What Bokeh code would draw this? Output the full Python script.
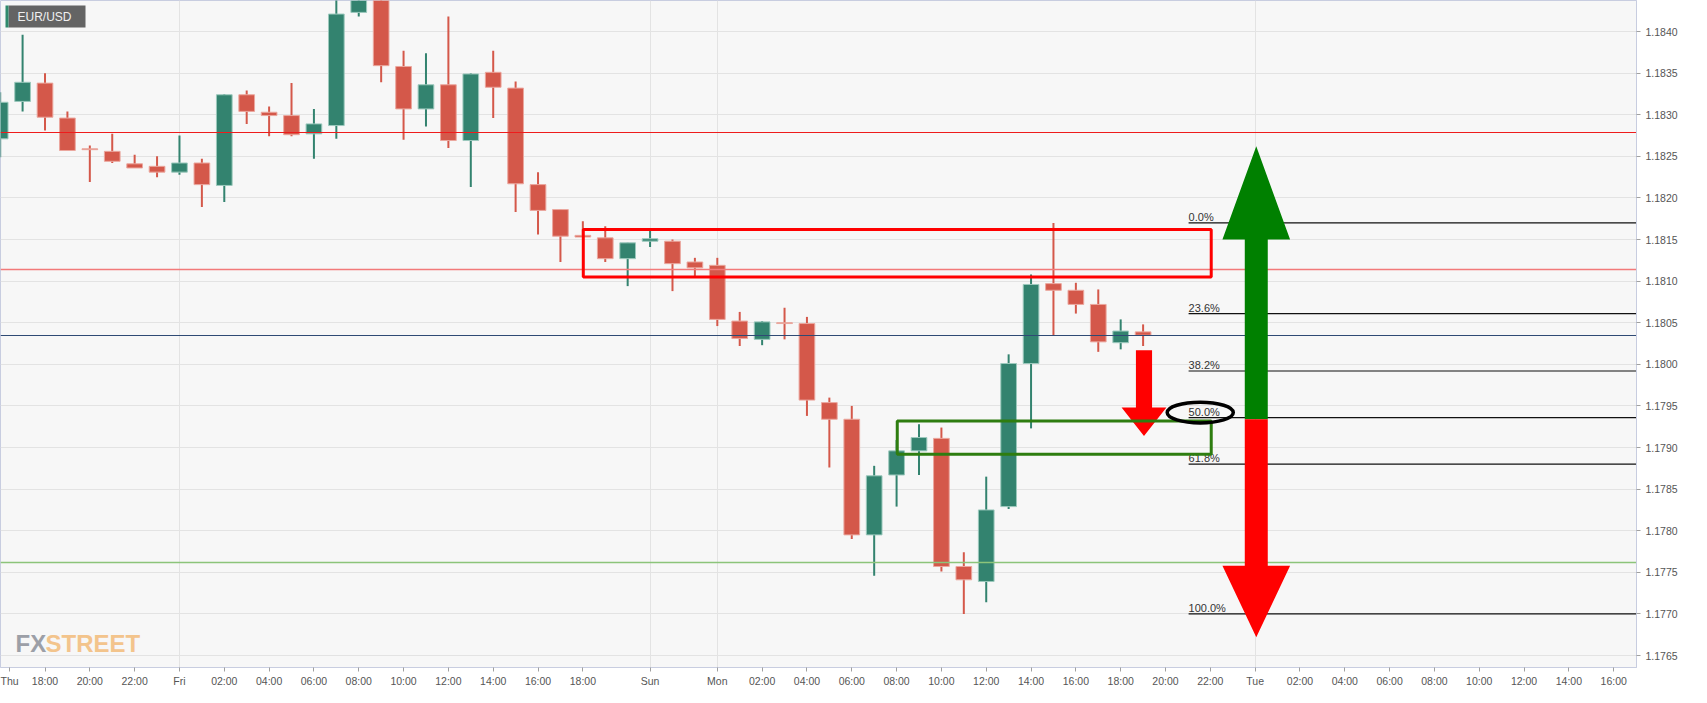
from bokeh.plotting import figure
from bokeh.models import (FixedTicker, Label, BoxAnnotation, NumeralTickFormatter,
                          ColumnDataSource)
from bokeh.core.properties import value
from bokeh.embed import file_html
from bokeh.resources import INLINE

# ---------------- data (hourly EUR/USD candles, index 0 = Thu 18:00) ----------------
hours = list(range(-2, 50))
opens = [1.18271, 1.18316, 1.18338, 1.18296, 1.18259, 1.18256, 1.18241, 1.18238, 1.18231, 1.18242,
         1.18215, 1.18324, 1.18303, 1.18299, 1.18277, 1.18287, 1.18423, 1.18448, 1.18358, 1.18307,
         1.18336, 1.18269, 1.18351, 1.18332, 1.18216, 1.18186, 1.18155, 1.18152, 1.18127, 1.18148,
         1.18148, 1.18123, 1.18119, 1.18052, 1.18030, 1.18050, 1.18049, 1.17954, 1.17934, 1.17795,
         1.17867, 1.17896, 1.17911, 1.17757, 1.17739, 1.17829, 1.18001, 1.18097, 1.18089, 1.18072,
         1.18026, 1.18039]
highs = [1.18327, 1.18396, 1.18350, 1.18304, 1.18263, 1.18277, 1.18252, 1.18250, 1.18275, 1.18247,
         1.18325, 1.18329, 1.18310, 1.18338, 1.18307, 1.18450, 1.18465, 1.18460, 1.18377, 1.18374,
         1.18418, 1.18350, 1.18377, 1.18340, 1.18231, 1.18186, 1.18172, 1.18166, 1.18146, 1.18164,
         1.18150, 1.18128, 1.18128, 1.18063, 1.18052, 1.18068, 1.18057, 1.17960, 1.17950, 1.17878,
         1.17909, 1.17928, 1.17924, 1.17774, 1.17865, 1.18012, 1.18108, 1.18170, 1.18098, 1.18090,
         1.18054, 1.18048]
lows = [1.18249, 1.18304, 1.18281, 1.18257, 1.18219, 1.18242, 1.18236, 1.18225, 1.18228, 1.18189,
        1.18195, 1.18289, 1.18274, 1.18274, 1.18247, 1.18271, 1.18418, 1.18339, 1.18270, 1.18286,
        1.18260, 1.18213, 1.18296, 1.18183, 1.18156, 1.18123, 1.18153, 1.18123, 1.18094, 1.18141,
        1.18088, 1.18105, 1.18046, 1.18022, 1.18023, 1.18030, 1.17938, 1.17876, 1.17790, 1.17746,
        1.17829, 1.17867, 1.17751, 1.17700, 1.17714, 1.17826, 1.17923, 1.18035, 1.18061, 1.18015,
        1.18018, 1.18022]
closes = [1.18315, 1.18339, 1.18297, 1.18257, 1.18258, 1.18244, 1.18236, 1.18231, 1.18242, 1.18216,
          1.18324, 1.18304, 1.18299, 1.18276, 1.18289, 1.18421, 1.18450, 1.18359, 1.18307, 1.18336,
          1.18269, 1.18349, 1.18333, 1.18217, 1.18185, 1.18154, 1.18153, 1.18127, 1.18146, 1.18151,
          1.18121, 1.18116, 1.18054, 1.18031, 1.18051, 1.18049, 1.17957, 1.17934, 1.17795, 1.17866,
          1.17896, 1.17912, 1.17757, 1.17741, 1.17825, 1.18001, 1.18096, 1.18089, 1.18072, 1.18027,
          1.18040, 1.18035]

x_tick_pos = [-1.58, 0, 2, 4, 6, 8, 10, 12, 14, 16, 18, 20, 22, 24, 27, 30, 32, 34, 36, 38, 40, 42,
              44, 46, 48, 50, 52, 54, 56, 58, 60, 62, 64, 66, 68, 70]
x_tick_labels = ["Thu", "18:00", "20:00", "22:00", "Fri", "02:00", "04:00", "06:00", "08:00", "10:00",
                 "12:00", "14:00", "16:00", "18:00", "Sun", "Mon", "02:00", "04:00", "06:00", "08:00",
                 "10:00", "12:00", "14:00", "16:00", "18:00", "20:00", "22:00", "Tue", "02:00", "04:00",
                 "06:00", "08:00", "10:00", "12:00", "14:00", "16:00"]
day_lines = [6, 27, 30, 54]
y_ticks = [1.1765, 1.1770, 1.1775, 1.1780, 1.1785, 1.1790, 1.1795, 1.1800, 1.1805, 1.1810,
           1.1815, 1.1820, 1.1825, 1.1830, 1.1835, 1.1840]

# horizontal support / resistance lines
h_levels = [1.18279, 1.18114, 1.17762, 1.18035]
h_colors = ["#ee1c1c", "#f27a7a", "#8cc47a", "#2f4a74"]
h_widths = [1.2, 1.6, 1.6, 1.2]
last_price = 1.18035

# fibonacci retracement
fib_levels = [1.18170, 1.18061, 1.17992, 1.17936, 1.17880, 1.17700]
fib_labels = ["0.0%", "23.6%", "38.2%", "50.0%", "61.8%", "100.0%"]
fib_start, fib_end = 51.03, 80

# drawn zones
red_zone = dict(left=24.02, right=52.04, bottom=1.18105, top=1.18162)
green_zone = dict(left=38.03, right=52.04, bottom=1.17892, top=1.17932)

# small red down arrow
sa_x, sa_top, sa_neck, sa_tip, sa_shaft, sa_head = 49.04, 1.18017, 1.17948, 1.17914, 0.36, 1.0
# big two-way arrow
ba_x, ba_up_tip, ba_up_neck, ba_mid, ba_dn_neck, ba_dn_tip = 54.05, 1.18262, 1.18150, 1.17934, 1.17758, 1.17672
ba_shaft, ba_head = 0.513, 1.51
# ellipse round the 50% label
ell_x, ell_y, ell_w, ell_h = 51.55, 1.17942, 2.95, 0.000249

# ---------------- figure ----------------
FRAME_H = 667
p = figure(frame_width=1636, frame_height=FRAME_H, x_range=(-1.986, 71.017),
           y_range=(1.176356, 1.184373),
           y_axis_location="right", output_backend="svg", toolbar_location=None,
           min_border_left=0, min_border_top=0, min_border_right=55, min_border_bottom=20,
           background_fill_color="#f7f7f7", border_fill_color="#ffffff",
           outline_line_color="#c8cde0")

FONT = "Liberation Sans"
axis_col = "#c8cde0"

p.xaxis.ticker = FixedTicker(ticks=x_tick_pos, minor_ticks=[])
p.xaxis.major_label_overrides = dict(zip(x_tick_pos, x_tick_labels))
p.yaxis.ticker = FixedTicker(ticks=y_ticks, minor_ticks=[])
p.yaxis.formatter = NumeralTickFormatter(format="0.0000")
for ax in (p.xaxis, p.yaxis):
    ax.axis_line_color = axis_col
    ax.major_tick_line_color = "#a0a0a0"
    ax.major_tick_in = 0
    ax.major_tick_out = 4
    ax.minor_tick_line_color = None
    ax.major_label_text_font = FONT
    ax.major_label_text_font_size = "10.5px"
    ax.major_label_text_color = "#555555"
p.xaxis.major_label_standoff = 3
p.yaxis.major_label_standoff = 5

p.xgrid.ticker = FixedTicker(ticks=day_lines, minor_ticks=[])
p.ygrid.ticker = FixedTicker(ticks=y_ticks, minor_ticks=[])
p.xgrid.grid_line_color = "#e3e3e3"
p.ygrid.grid_line_color = "#e3e3e3"

# ---------------- candles ----------------
up_col, dn_col = "#33836f", "#d4584a"
up_edge, dn_edge = "#9cc9bd", "#eba79e"
colors = [up_col if c >= o else dn_col for o, c in zip(opens, closes)]
edges = [up_edge if c >= o else dn_edge for o, c in zip(opens, closes)]
src = ColumnDataSource(dict(
    x=hours, o=opens, h=highs, l=lows, c=closes,
    top=[max(o, c) for o, c in zip(opens, closes)],
    bottom=[min(o, c) for o, c in zip(opens, closes)],
    color=colors, edge=edges))
p.segment(x0="x", y0="l", x1="x", y1="h", line_color="color", line_width=2, source=src)
p.vbar(x="x", width=0.7, top="top", bottom="bottom", fill_color="color",
       line_color="edge", line_width=1, source=src)

# ---------------- horizontal lines ----------------
p.hspan(y=h_levels, line_color=h_colors, line_width=h_widths)

# ---------------- fibonacci ----------------
p.segment(x0=[fib_start] * len(fib_levels), y0=fib_levels, x1=[fib_end] * len(fib_levels),
          y1=fib_levels, line_color="#111111", line_width=1.2)
p.text(x=[fib_start] * len(fib_levels), y=fib_levels, text=fib_labels, text_font=value(FONT),
       text_font_size="11px", text_color="#333333", text_baseline="bottom")

# ---------------- drawings ----------------
p.quad(fill_alpha=0, line_color="#ff0000", line_width=3, **{k: [v] for k, v in red_zone.items()})

p.patch(x=[sa_x - sa_shaft, sa_x + sa_shaft, sa_x + sa_shaft, sa_x + sa_head, sa_x,
           sa_x - sa_head, sa_x - sa_shaft],
        y=[sa_top, sa_top, sa_neck, sa_neck, sa_tip, sa_neck, sa_neck],
        fill_color="#ff0000", line_color=None)

p.quad(fill_alpha=0, line_color="#2e7d10", line_width=3, **{k: [v] for k, v in green_zone.items()})

p.patch(x=[ba_x, ba_x + ba_head, ba_x + ba_shaft, ba_x + ba_shaft, ba_x - ba_shaft, ba_x - ba_shaft,
           ba_x - ba_head],
        y=[ba_up_tip, ba_up_neck, ba_up_neck, ba_mid, ba_mid, ba_up_neck, ba_up_neck],
        fill_color="#008000", line_color=None)
p.patch(x=[ba_x, ba_x + ba_head, ba_x + ba_shaft, ba_x + ba_shaft, ba_x - ba_shaft, ba_x - ba_shaft,
           ba_x - ba_head],
        y=[ba_dn_tip, ba_dn_neck, ba_dn_neck, ba_mid, ba_mid, ba_dn_neck, ba_dn_neck],
        fill_color="#ff0000", line_color=None)

p.ellipse(x=[ell_x], y=[ell_y], width=[ell_w], height=[ell_h], fill_alpha=0,
          line_color="#000000", line_width=3.5)

# ---------------- labels ----------------
def sbox(l, r, t, b, color):
    return BoxAnnotation(left=l, right=r, top=t, bottom=b, left_units="screen",
                         right_units="screen", top_units="screen", bottom_units="screen",
                         fill_color=color, fill_alpha=1, line_color=None)

p.add_layout(sbox(8, 85, FRAME_H - 5, FRAME_H - 27, "#646464"))
p.add_layout(sbox(5, 8, FRAME_H - 5, FRAME_H - 27, "#2f8a6c"))
p.add_layout(Label(x=17, y=FRAME_H - 16, x_units="screen", y_units="screen", text="EUR/USD",
                   text_baseline="middle", text_color="#f0f0f0", text_font=FONT,
                   text_font_size="12px"))

p.add_layout(Label(x=1664, x_units="screen", y=last_price, text=f"{last_price:.5f}",
                   text_align="center", text_baseline="middle", text_color="#ffffff",
                   text_font=FONT, text_font_style="bold", text_font_size="11px",
                   background_fill_color="#2f4a74", padding=2))

WM = "'Liberation Sans Narrow', 'Liberation Sans', sans-serif"
p.add_layout(Label(x=15, y=FRAME_H - 643, x_units="screen", y_units="screen", text="FX",
                   text_color="#9c9fa7", text_font=WM, text_font_style="bold",
                   text_font_size="24px", text_baseline="middle"))
p.add_layout(Label(x=45, y=FRAME_H - 643, x_units="screen", y_units="screen", text="STREET",
                   text_color="#f3c48c", text_font=WM, text_font_style="bold",
                   text_font_size="24px", text_baseline="middle"))

open("out.html", "w").write(file_html(p, INLINE))
